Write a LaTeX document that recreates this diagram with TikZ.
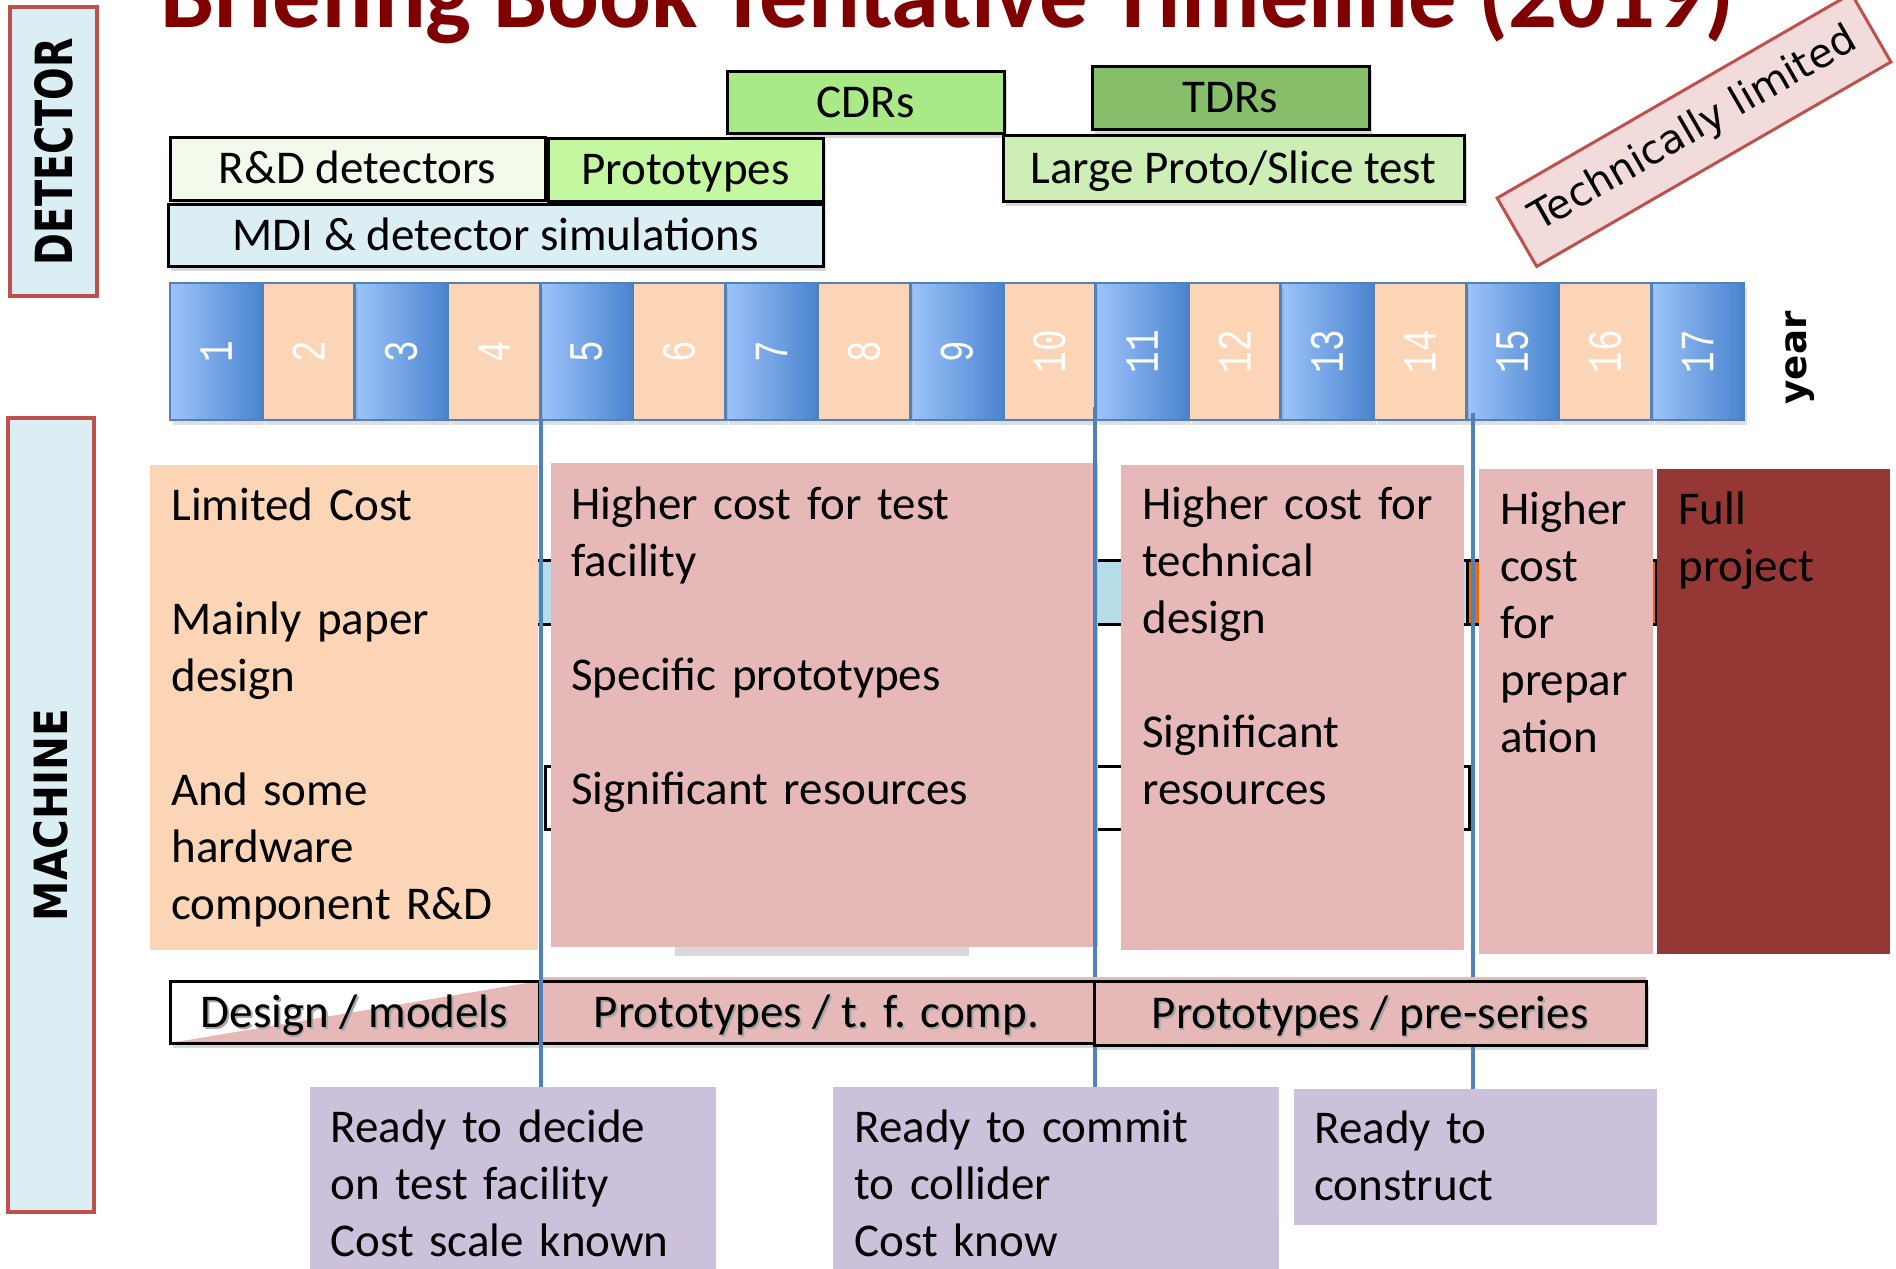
\documentclass[tikz,border=0pt]{standalone}
\usepackage{fontspec}
\usepackage{graphicx}
\setmainfont{Carlito}
\newfontfamily\djv{DejaVu Sans}
\newfontfamily\lmono{Liberation Mono}
\usetikzlibrary{shadows,calc}
\definecolor{titlered}{RGB}{128,0,0}
\definecolor{lblfill}{RGB}{219,238,244}
\definecolor{lblred}{RGB}{192,80,77}
\definecolor{cdrg}{RGB}{169,234,134}
\definecolor{tdrg}{RGB}{134,190,106}
\definecolor{rdg}{RGB}{242,250,235}
\definecolor{protog}{RGB}{195,248,160}
\definecolor{mdib}{RGB}{219,238,244}
\definecolor{largeg}{RGB}{205,238,181}
\definecolor{yblueL}{RGB}{157,196,250}
\definecolor{yblueD}{RGB}{74,132,207}
\definecolor{yborder}{RGB}{79,129,189}
\definecolor{peach}{RGB}{251,213,181}
\definecolor{pinkc}{RGB}{230,185,184}
\definecolor{darkredc}{RGB}{149,55,53}
\definecolor{lilac}{RGB}{204,193,218}
\definecolor{barblue}{RGB}{183,222,232}
\definecolor{barorange}{RGB}{228,108,10}
\definecolor{techfill}{RGB}{242,220,219}
\newcommand\shtext[1]{\makebox[0pt][l]{\hspace*{0.8pt}\raisebox{-1.2pt}{\textcolor{black!35}{#1}}}#1}
\newcommand\yeartxt[1]{\rotatebox{90}{\scalebox{1}[1.33]{\lmono\fontsize{18pt}{18pt}\selectfont #1}}}
\tikzset{
  sidebox/.style={draw=lblred, fill=lblfill, line width=2pt, inner sep=0pt},
  detb/.style={draw=black, line width=1.5pt, inner sep=0pt, text height=15pt, text depth=0pt,
    font=\fontsize{23.5pt}{28pt}\selectfont,
    drop shadow={shadow xshift=1.5pt, shadow yshift=-2.5pt, opacity=0.3}},
  yearb/.style={draw=yborder, line width=1.2pt, inner sep=0pt, minimum width=46pt, minimum height=68.5pt,
    text=white, drop shadow={shadow xshift=1.5pt, shadow yshift=-2.5pt, opacity=0.25}},
  mbox/.style={inner sep=0pt, draw=none},
  body/.style={anchor=base west, text width=300pt, align=left, inner sep=0pt,
    font=\fontsize{23.5pt}{28.5pt}\selectfont},
  barb/.style={draw=black, line width=1.5pt, inner sep=0pt, text height=15pt, text depth=0pt,
    font=\fontsize{23.5pt}{28pt}\selectfont,
    drop shadow={shadow xshift=1.5pt, shadow yshift=-2.5pt, opacity=0.3}},
  mline/.style={draw=yborder, line width=2.2pt},
  hbar/.style={draw=black, line width=1.5pt}
}
\begin{document}
\begin{tikzpicture}[x=0.5pt, y=-0.5pt]
\useasboundingbox (0,0) rectangle (1896,1269);
\clip (0,0) rectangle (1896,1269);
\fill[white] (0,0) rectangle (1896,1269);

% title
\node[anchor=base west, inner sep=0pt, text=titlered, font=\bfseries\fontsize{48.3pt}{50pt}\selectfont] (title) at (160,27) {Briefing Book Tentative Timeline (2019)};

% side labels
\node[sidebox, minimum width=43.5pt, minimum height=144.5pt] (detbox) at (53.5,151.5) {};
\node[rotate=90, inner sep=0pt] (dettxt) at (detbox.center) {\resizebox{113.5pt}{19pt}{\djv\bfseries DETECTOR}};
\node[sidebox, minimum width=43pt, minimum height=397pt] (macbox) at (51,815) {};
\node[rotate=90, inner sep=0pt] (mactxt) at (macbox.center) {\resizebox{106pt}{17pt}{\djv\bfseries MACHINE}};

% detector boxes
\node[detb, fill=cdrg, minimum width=138.5pt, minimum height=31pt] (cdr) at (865.5,102) {CDRs};
\node[detb, fill=tdrg, minimum width=138.5pt, minimum height=31.5pt] (tdr) at (1230.5,97.5) {TDRs};
\node[detb, fill=rdg, minimum width=187.5pt, minimum height=31.5pt] (rnd) at (357.5,168.5) {R\&D detectors};
\node[detb, fill=protog, minimum width=137.5pt, minimum height=31.5pt] (proto) at (685.5,169.5) {Prototypes};
\node[detb, fill=mdib, minimum width=327.5pt, minimum height=31pt] (mdi) at (495.5,235) {MDI \& detector simulations};
\node[detb, fill=largeg, minimum width=230.5pt, minimum height=33pt] (large) at (1233.5,168) {Large Proto/Slice test};

% technically limited
\node[draw=lblred, fill=techfill, line width=1.5pt, rotate=30, minimum width=204.5pt, minimum height=39.5pt, inner sep=0pt] (tech) at (1694,130) {\djv\fontsize{20pt}{22pt}\selectfont Technically limited};

% year boxes
\foreach \i in {1,3,...,17}
  \node[yearb, left color=yblueL, right color=yblueD] (y\i) at ({216+92.6*(\i-1)},351.5) {\yeartxt{\i}};
\foreach \i in {2,4,...,16}
  \node[yearb, fill=peach] (y\i) at ({216+92.6*(\i-1)},351.5) {\yeartxt{\i}};
\node[rotate=90, inner sep=0pt] (yearlbl) at (1800,358) {\resizebox{46.5pt}{!}{\djv\bfseries year}};

% partly hidden bars
\path[hbar, fill=barblue] (530,560) rectangle (1467,624);
\path[hbar, fill=barorange] (1467,560) rectangle (1656,624);
\path[hbar, fill=white] (545,766) rectangle (1469,829);
\fill[black!15] (675,947) rectangle (969,956);

% machine boxes
\node[mbox, fill=peach, minimum width=194pt, minimum height=242.5pt] (mA) at (344,707.5) {};
\node[mbox, fill=pinkc, minimum width=273.5pt, minimum height=242pt] (mB) at (824.5,705) {};
\node[mbox, fill=pinkc, minimum width=171.5pt, minimum height=242.5pt] (mC) at (1292.5,707.5) {};
\node[mbox, fill=pinkc, minimum width=87pt, minimum height=242.5pt] (mD) at (1566,711.5) {};
\node[mbox, fill=darkredc, minimum width=116.5pt, minimum height=242.5pt] (mE) at (1773.5,711.5) {};
\node[body] (tA) at (171,520) {Limited Cost\\[28.5pt]Mainly paper\\design\\[28.5pt]And some\\hardware\\component R\&D};
\node[body] (tB) at (571,519) {Higher cost for test\\facility\\[28.5pt]Specific prototypes\\[28.5pt]Significant resources};
\node[body] (tC) at (1142,519) {Higher cost for\\technical\\design\\[28.5pt]Significant\\resources};
\node[body] (tD) at (1500,524) {Higher\\cost\\for\\prepar\\ation};
\node[body] (tE) at (1678,524) {Full\\project};

% purple milestone boxes
\node[mbox, fill=lilac, minimum width=203pt, minimum height=96.5pt] (p1) at (513,1183.5) {};
\node[mbox, fill=lilac, minimum width=223pt, minimum height=96.5pt] (p2) at (1056,1183.5) {};
\node[mbox, fill=lilac, minimum width=181.5pt, minimum height=68pt] (p3) at (1475.5,1157) {};
\node[body] (tp1) at (330,1142) {Ready to decide\\on test facility\\Cost scale known};
\node[body] (tp2) at (854,1142) {Ready to commit\\to collider\\Cost know};
\node[body] (tp3) at (1314,1143) {Ready to\\construct};

% milestone lines (2 and 3 under the bottom bar)
\coordinate (m1) at (541,418);
\coordinate (m2) at (1095,407);
\coordinate (m3) at (1473,413);
\draw[mline] (m2) -- (m2 |- p2.north);
\draw[mline] (m3) -- (m3 |- p3.north);

% bottom bar
\fill[pinkc] (539,977) rectangle (1646,1040);
\node[barb, fill=white, minimum width=184.5pt, minimum height=31pt,
  path picture={\fill[pinkc] (path picture bounding box.south west) -- (path picture bounding box.south east) -- (path picture bounding box.north east) -- cycle;}] (bD) at (354.5,1012) {\shtext{Design / models}};
\node[barb, fill=pinkc, minimum width=277.5pt, minimum height=31pt] (bP) at (816.5,1012) {\shtext{Prototypes / t. f. comp.}};
\node[barb, fill=pinkc, minimum width=276pt, minimum height=32pt] (bS) at (1370,1013) {\shtext{Prototypes / pre-series}};

\draw[mline] (m1) -- (m1 |- p1.north);
\end{tikzpicture}
\end{document}
